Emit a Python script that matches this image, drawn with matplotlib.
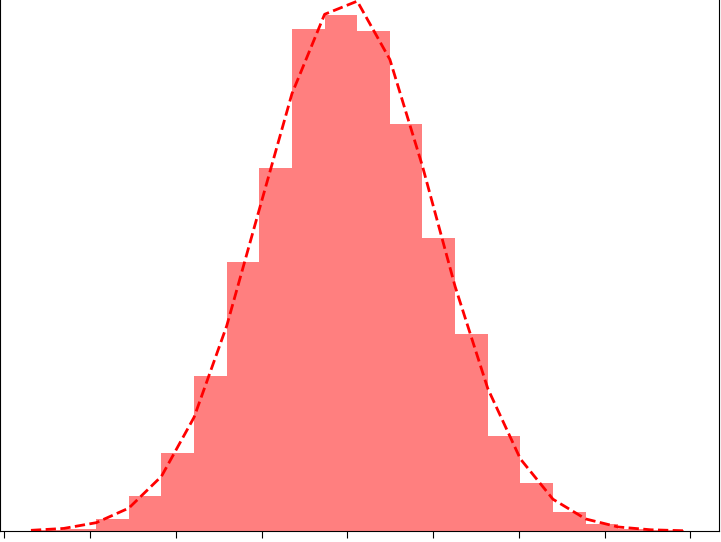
import numpy as np
import matplotlib
matplotlib.use('Agg')
import matplotlib.pyplot as plt

# 直方图的分箱边界（20个箱）
bin_edges = np.linspace(-3.689, 3.921, 21)

# 每个箱的密度
densities = [0.0007, 0.0015, 0.009, 0.026, 0.058, 0.116, 0.201, 0.271, 0.375, 0.385,
             0.373, 0.304, 0.219, 0.147, 0.071, 0.036, 0.014, 0.005, 0.0015, 0.0007]

# 正态拟合曲线在各边界处的值
curve_vals = [0.0005, 0.0019, 0.0062, 0.0171, 0.0408, 0.0849, 0.1531, 0.2401, 0.3264, 0.3856,
              0.3954, 0.3519, 0.2722, 0.1825, 0.1064, 0.0538, 0.0237, 0.0090, 0.0030, 0.0009, 0.0002]

fig = plt.figure(figsize=(7.21, 5.42), dpi=100)
# 坐标轴超出画布上沿和左沿（原图被裁剪）
ax = fig.add_axes([0.0, 11 / 542, 719 / 721, 560 / 542])

ax.hist(bin_edges[:-1], bins=bin_edges, weights=densities, color='r', alpha=0.5)
ax.plot(bin_edges, curve_vals, 'r--', linewidth=2)

ax.set_xlim(-4.05, 4.335)
ax.set_ylim(0, 560 / 1340)
ax.set_xticks(np.arange(-4, 5, 1))
ax.set_xticklabels([])
ax.set_yticklabels([])
ax.tick_params(axis='x', length=5)

fig.savefig('out.png', dpi=100)
